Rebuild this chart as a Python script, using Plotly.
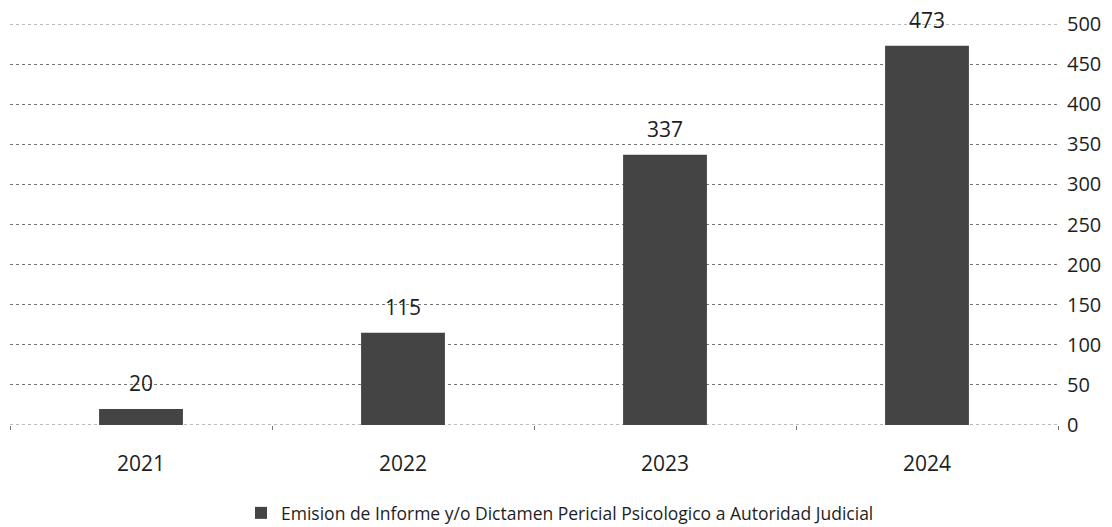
import plotly.graph_objects as go

years = ["2021", "2022", "2023", "2024"]
values = [20, 115, 337, 473]
series_name = "Emision de Informe y/o Dictamen Pericial Psicologico a Autoridad Judicial"
y_ticks = [0, 50, 100, 150, 200, 250, 300, 350, 400, 450, 500]

FONT = "Open Sans, Liberation Sans, sans-serif"
GRID = "#777777"

fig = go.Figure(
    data=[
        go.Bar(
            x=years,
            y=values,
            name=series_name,
            marker={"color": "#444444", "line": {"width": 0}},
            showlegend=True,
        )
    ]
)

# value labels sit a little higher above the bars than plotly's own outside text
# (numeric-looking year strings would be read as category indices, so use the index)
for i, value in enumerate(values):
    fig.add_annotation(
        x=i,
        y=value,
        text=str(value),
        showarrow=False,
        yanchor="bottom",
        yshift=10,
        font={"size": 21, "color": "#1e1e1e", "family": FONT},
    )

# edge gridlines (plotly drops gridlines that sit on the plot border)
for edge in (y_ticks[0], y_ticks[-1]):
    fig.add_hline(y=edge, line={"color": GRID, "width": 1, "dash": "dot"}, layer="below")

# the page body keeps its 8px margin, so the figure is sized to fit inside it
fig.update_layout(
    width=1104,
    height=519,
    autosize=False,
    margin={"l": 2, "r": 54, "t": 16, "b": 102, "autoexpand": False},
    paper_bgcolor="white",
    plot_bgcolor="white",
    bargap=0.68,
    font={"family": FONT, "size": 17, "color": "#1e1e1e"},
    legend={
        "orientation": "h",
        "xref": "container",
        "yref": "container",
        "x": 0.5,
        "xanchor": "center",
        "y": 0.027,
        "yanchor": "middle",
        "font": {"size": 17.5},
    },
    xaxis={
        "type": "category",
        "range": [-0.5, len(years) - 0.5],
        "showgrid": False,
        "showline": False,
        "ticks": "outside",
        "tickson": "boundaries",
        "ticklen": 4,
        "tickcolor": GRID,
        "tickfont": {"size": 21},
        "tickangle": 0,
        "ticklabelstandoff": 24,
    },
    yaxis={
        "side": "right",
        "range": [0, 500],
        "tickvals": y_ticks,
        "showgrid": True,
        "gridcolor": GRID,
        "griddash": "dot",
        "gridwidth": 1,
        "zeroline": False,
        "showline": False,
        "ticks": "",
        "tickfont": {"size": 20},
        "ticklabelstandoff": 8,
    },
)

fig.write_html("out.html")
